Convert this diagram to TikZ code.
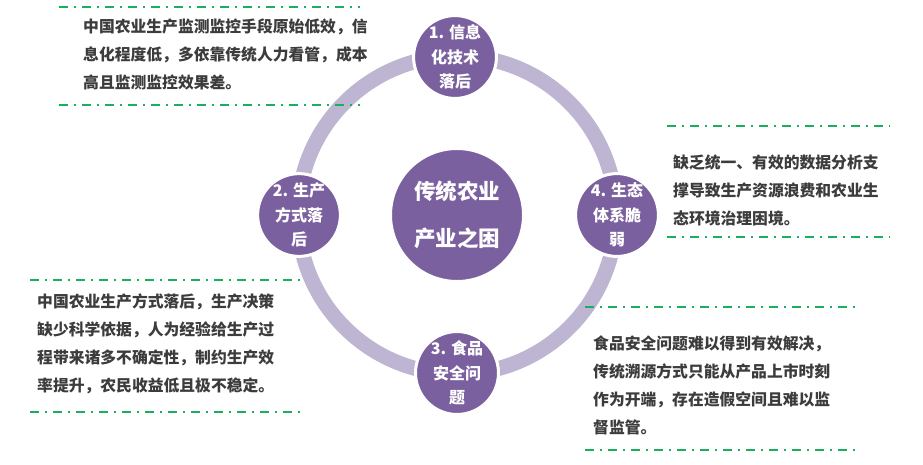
\documentclass[tikz,border=0pt]{standalone}
\usepackage{fontspec}
\setmainfont{Noto Sans CJK SC}
\definecolor{purp}{HTML}{7B609F}
\definecolor{ringc}{HTML}{BDB5D1}
\definecolor{grn}{HTML}{1AAF5D}
\definecolor{txt}{HTML}{3C3C3C}
\tikzset{
  issue/.style={circle, fill=purp, draw=white, line width=3pt, minimum size=80pt, inner sep=0pt,
    text=white, align=center, font=\fontsize{16}{24.5}\selectfont\bfseries},
  core/.style={circle, fill=purp, draw=white, line width=2pt, minimum size=132pt, inner sep=0pt,
    text=white, align=center, font=\fontsize{21.5}{47}\selectfont\bfseries},
  desc/.style={anchor=west, inner sep=0pt, align=left, text=txt,
    font=\fontsize{15.8}{28}\selectfont\bfseries},
  sep/.style={draw=grn, line width=1.8pt, dash pattern=on 9pt off 6pt on 2pt off 6pt}
}
\begin{document}
\begin{tikzpicture}[x=1pt,y=-1pt]
\useasboundingbox (0,0) rectangle (923,464);
\coordinate (c) at (457,215);
\draw[ringc, line width=15pt] (c) circle (159);
\node[core] (center) at (c) {传统农业\\产业之困};
\node[issue] (n1) at (455,57) {1. 信息\\化技术\\落后};
\node[issue] (n2) at (299,215) {2. 生产\\方式落\\后};
\node[issue] (n3) at (457,373) {3. 食品\\安全问\\题};
\node[issue] (n4) at (617,215) {4. 生态\\体系脆\\弱};

\node[desc] (d1) at (83,54.5) {中国农业生产监测监控手段原始低效，信\\息化程度低，多依靠传统人力看管，成本\\高且监测监控效果差。};
\node[desc] (d4) at (673,190) {缺乏统一、有效的数据分析支\\撑导致生产资源浪费和农业生\\态环境治理困境。};
\node[desc] (d2) at (37,343.5) {中国农业生产方式落后，生产决策\\缺少科学依据，人为经验给生产过\\程带来诸多不确定性，制约生产效\\率提升，农民收益低且极不稳定。};
\node[desc] (d3) at (593,385.5) {食品安全问题难以得到有效解决，\\传统溯源方式只能从产品上市时刻\\作为开端，存在造假空间且难以监\\督监管。};

\coordinate (a1) at (59,7);   \coordinate (b1) at (360,7);
\coordinate (a2) at (59,105); \coordinate (b2) at (360,105);
\coordinate (a3) at (667,126); \coordinate (b3) at (890,126);
\coordinate (a4) at (667,237); \coordinate (b4) at (890,237);
\coordinate (a5) at (30,280);  \coordinate (b5) at (302,280);
\coordinate (a6) at (30,412);  \coordinate (b6) at (302,412);
\coordinate (a7) at (585,307); \coordinate (b7) at (857,307);
\coordinate (a8) at (585,450); \coordinate (b8) at (857,450);
\foreach \i in {1,...,8} \draw[sep] (a\i) -- (b\i);
\end{tikzpicture}
\end{document}
